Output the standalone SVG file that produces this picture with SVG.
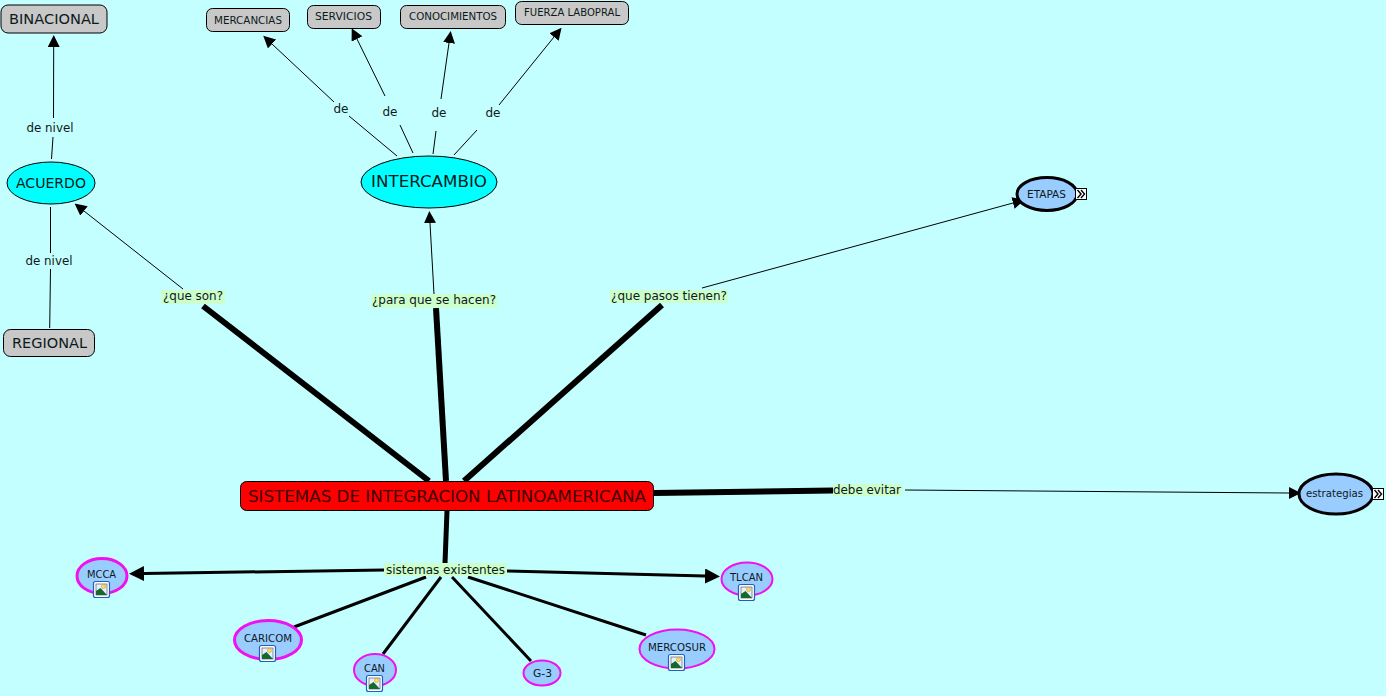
<svg xmlns="http://www.w3.org/2000/svg" width="1386" height="696" viewBox="0 0 1386 696">
<style>
text{font-family:"DejaVu Sans",Verdana,sans-serif;fill:#0d1a1a;text-anchor:middle}
.box{fill:#c8c8c8;stroke:#000;stroke-width:1}
.cy{fill:#00ffff;stroke:#000;stroke-width:1}
.bl{fill:#99ccff;stroke:#000;stroke-width:3}
.pk{fill:#99ccff;stroke:#f010f0}
.c{stroke:#000;fill:none}
.lb{fill:#ccffcc}
.t12{font-size:12px}.t11{font-size:11px}.t10{font-size:10px}
</style>
<defs>
<marker id="a" viewBox="0 0 10 10" refX="0" refY="5" markerWidth="12" markerHeight="12" markerUnits="userSpaceOnUse" orient="auto"><path d="M0,0L10,5L0,10Z" fill="#000"/></marker>
<marker id="b" viewBox="0 0 10 10" refX="0" refY="5" markerWidth="15" markerHeight="15" markerUnits="userSpaceOnUse" orient="auto"><path d="M0,0L10,5L0,10Z" fill="#000"/></marker>
<g id="icon"><rect x="-8" y="-8" width="16" height="16" rx="2" fill="#fff" stroke="#1f5fc0" stroke-width="1.2"/><rect x="-5.500" y="-5.500" width="11" height="11" fill="#e8f0ff" stroke="#444" stroke-width=".6"/><circle cx="2" cy="-3" r="2" fill="#ffe060" stroke="#b09020" stroke-width=".5"/><path d="M-5.500,5.500L-5.500,1.500L-1,-1.500L5.500,5.500Z" fill="#14692f"/></g>
<g id="more"><rect x="0" y="0" width="11" height="11" fill="#fff" stroke="#000"/><path d="M2,1.500L5.500,5.500L2,9.500M5.500,1.500L9,5.500L5.500,9.500" fill="none" stroke="#000" stroke-width="1.400"/></g>
</defs>
<rect width="1386" height="696" fill="#c4ffff"/>
<g id="connectors">
<path class="c" d="M51.500,159L53,137" stroke-width="1"/>
<path class="c" d="M53.500,118L53.700,47" stroke-width="1" marker-end="url(#a)"/>
<path class="c" d="M50.500,207L50.500,253M50.500,269L49.700,328" stroke-width="1"/>
<path class="c" d="M397,156L349,116M334,102L272,44" stroke-width="1" marker-end="url(#a)"/>
<path class="c" d="M413,153L400,125M385,96L357,39" stroke-width="1" marker-end="url(#a)"/>
<path class="c" d="M433,154L436,131M441,99L449,43" stroke-width="1" marker-end="url(#a)"/>
<path class="c" d="M454,155L477,130M499,105L554,37" stroke-width="1" marker-end="url(#a)"/>
<path class="c" d="M429,481L203,306" stroke-width="6"/>
<path class="c" d="M446,481L436,308" stroke-width="6"/>
<path class="c" d="M464,481L662,305" stroke-width="6"/>
<path class="c" d="M654,493L833,490.500" stroke-width="6"/>
<path class="c" d="M447,511L445,563" stroke-width="5"/>
<path class="c" d="M183,289L84,211" stroke-width="1" marker-end="url(#a)"/>
<path class="c" d="M434,294L430,223" stroke-width="1" marker-end="url(#a)"/>
<path class="c" d="M702,288L1013,203" stroke-width="1" marker-end="url(#a)"/>
<path class="c" d="M905,490L1289,493" stroke-width="1" marker-end="url(#a)"/>
<path class="c" d="M384,570L144,573.500" stroke-width="3" marker-end="url(#b)"/>
<path class="c" d="M507,571L705,576" stroke-width="3" marker-end="url(#b)"/>
<path class="c" d="M426,577L294,627" stroke-width="3"/>
<path class="c" d="M441,577L383,654" stroke-width="3"/>
<path class="c" d="M452,577L531,661" stroke-width="3"/>
<path class="c" d="M468,577L646,635" stroke-width="3"/>
</g>
<g id="n-binacional"><rect class="box" x="1" y="5" width="106" height="28" rx="7"/><text x="54" y="24" font-size="14" textLength="90" lengthAdjust="spacingAndGlyphs">BINACIONAL</text></g>
<g id="n-mercancias"><rect class="box" x="206.500" y="8.500" width="83" height="23" rx="6"/><text x="248" y="24" class="t10" textLength="68" lengthAdjust="spacingAndGlyphs">MERCANCIAS</text></g>
<g id="n-servicios"><rect class="box" x="307.500" y="5.500" width="73" height="23" rx="6"/><text x="343.500" y="20" class="t10" textLength="57" lengthAdjust="spacingAndGlyphs">SERVICIOS</text></g>
<g id="n-conocimientos"><rect class="box" x="400.500" y="5.500" width="105" height="23" rx="6"/><text x="453" y="20" class="t10" textLength="88" lengthAdjust="spacingAndGlyphs">CONOCIMIENTOS</text></g>
<g id="n-fuerza"><rect class="box" x="515.500" y="1.500" width="113" height="23" rx="6"/><text x="572" y="16" class="t10" textLength="96" lengthAdjust="spacingAndGlyphs">FUERZA LABOPRAL</text></g>
<g id="n-acuerdo"><ellipse class="cy" cx="51" cy="183" rx="44" ry="21"/><text x="51" y="188" font-size="14" textLength="70" lengthAdjust="spacingAndGlyphs">ACUERDO</text></g>
<g id="n-intercambio"><ellipse class="cy" cx="429" cy="182" rx="68" ry="26"/><text x="429" y="187" font-size="16" textLength="116" lengthAdjust="spacingAndGlyphs">INTERCAMBIO</text></g>
<g id="n-regional"><rect class="box" x="3.500" y="329.500" width="91" height="27" rx="7"/><text x="49.500" y="348" font-size="14" textLength="75" lengthAdjust="spacingAndGlyphs">REGIONAL</text></g>
<g id="n-etapas"><ellipse class="bl" cx="1047" cy="194" rx="30" ry="16.500"/><text x="1046.500" y="198" class="t10" textLength="39" lengthAdjust="spacingAndGlyphs">ETAPAS</text><use href="#more" x="1075.500" y="188.500"/></g>
<g id="n-estrategias"><ellipse class="bl" cx="1336" cy="494" rx="37" ry="20"/><text x="1334.500" y="497" class="t10" textLength="57" lengthAdjust="spacingAndGlyphs">estrategias</text><use href="#more" x="1372.500" y="488.500"/></g>
<g id="n-sistemas"><rect x="240.500" y="481.500" width="413" height="29" rx="6" fill="#ff0000" stroke="#000"/><text x="447" y="502" font-size="16" style="fill:#400000" textLength="398" lengthAdjust="spacingAndGlyphs">SISTEMAS DE INTEGRACION LATINOAMERICANA</text></g>
<g id="n-mcca"><ellipse class="pk" cx="102" cy="576" rx="25" ry="17.500" stroke-width="3"/><text x="101.500" y="578" class="t10" textLength="29" lengthAdjust="spacingAndGlyphs">MCCA</text><use href="#icon" x="101.500" y="589.500"/></g>
<g id="n-caricom"><ellipse class="pk" cx="268" cy="640" rx="33.500" ry="19.500" stroke-width="3"/><text x="268" y="642" class="t10" textLength="48" lengthAdjust="spacingAndGlyphs">CARICOM</text><use href="#icon" x="267.500" y="653.500"/></g>
<g id="n-can"><ellipse class="pk" cx="375" cy="670" rx="21" ry="16" stroke-width="2"/><text x="374.500" y="672" class="t10" textLength="21" lengthAdjust="spacingAndGlyphs">CAN</text><use href="#icon" x="374.500" y="683.500"/></g>
<g id="n-g3"><ellipse class="pk" cx="542" cy="673" rx="18.500" ry="12.500" stroke-width="2"/><text x="542.500" y="677" class="t10" textLength="19" lengthAdjust="spacingAndGlyphs">G-3</text></g>
<g id="n-mercosur"><ellipse class="pk" cx="677" cy="649" rx="37.500" ry="19.500" stroke-width="2"/><text x="677" y="651" class="t10" textLength="58" lengthAdjust="spacingAndGlyphs">MERCOSUR</text><use href="#icon" x="676.500" y="662.500"/></g>
<g id="n-tlcan"><ellipse class="pk" cx="747" cy="579" rx="25.500" ry="16.500" stroke-width="2"/><text x="746.500" y="581" class="t10" textLength="33" lengthAdjust="spacingAndGlyphs">TLCAN</text><use href="#icon" x="746.500" y="592.500"/></g>
<g id="labels">
<text x="50" y="132" class="t12" textLength="47" lengthAdjust="spacingAndGlyphs">de nivel</text>
<text x="49" y="265" class="t12" textLength="47" lengthAdjust="spacingAndGlyphs">de nivel</text>
<text x="341" y="113" class="t12">de</text>
<text x="390" y="116" class="t12">de</text>
<text x="439" y="117" class="t12">de</text>
<text x="493" y="117" class="t12">de</text>
<rect class="lb" x="161" y="290" width="64" height="14"/><text x="193" y="300" class="t12" textLength="60" lengthAdjust="spacingAndGlyphs">¿que son?</text>
<rect class="lb" x="371" y="294" width="126" height="14"/><text x="434" y="304" class="t12" textLength="124" lengthAdjust="spacingAndGlyphs">¿para que se hacen?</text>
<rect class="lb" x="610" y="290" width="118" height="13"/><text x="669" y="300" class="t12" textLength="116" lengthAdjust="spacingAndGlyphs">¿que pasos tienen?</text>
<rect class="lb" x="833" y="484" width="69" height="12"/><text x="867" y="494" class="t12" textLength="68" lengthAdjust="spacingAndGlyphs">debe evitar</text>
<rect class="lb" x="384" y="563" width="123" height="13"/><text x="445.500" y="574" class="t12" textLength="119" lengthAdjust="spacingAndGlyphs">sistemas existentes</text>
</g>
</svg>
